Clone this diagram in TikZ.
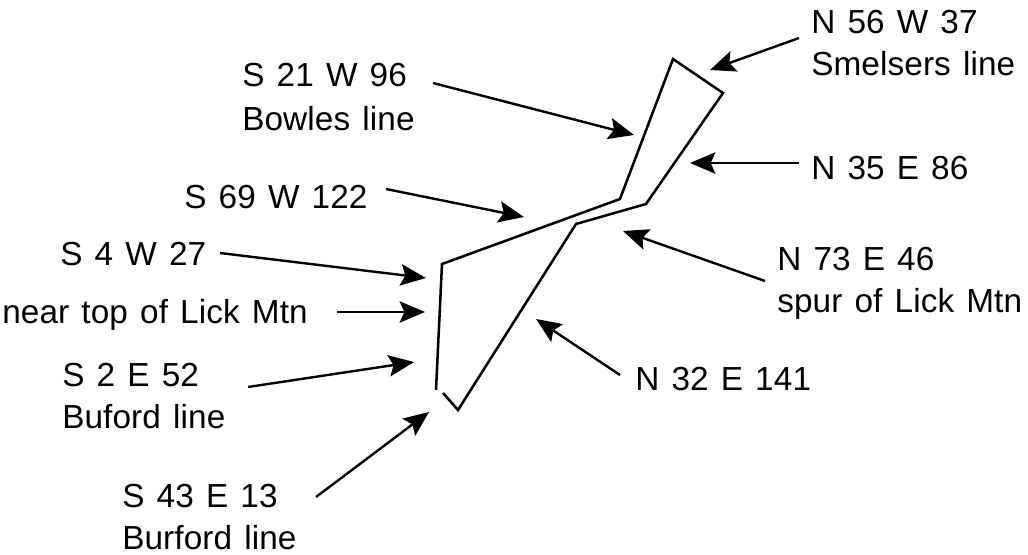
\documentclass[tikz,border=0pt]{standalone}
\usepackage{fontspec}
\setmainfont[WordSpace=1.3,LetterSpace=0.3]{Liberation Sans}
\usetikzlibrary{arrows.meta}
\tikzset{
 lbl/.style={anchor=base west,inner sep=0pt,yshift=-1pt,font=\fontsize{25}{30}\selectfont},
 arr/.style={line width=1.8pt,-{Stealth[length=19pt,width=16pt,inset=3.5pt]}},
 ln/.style={line width=1.9pt,line join=miter}
}
\begin{document}
\begin{tikzpicture}[x=0.75pt,y=-0.75pt]
\useasboundingbox (0,0) rectangle (1028,555);
\draw[ln] (436,390) -- (442,264) -- (620,199) -- (673,59) -- (723,93) -- (646,204) -- (576,224) -- (458,410) -- (443,393);
\node[lbl] (a) at (811,32) {N 56 W 37};
\node[lbl] (a2) at (811,74) {Smelsers line};
\node[lbl] (b) at (242,85) {S 21 W 96};
\node[lbl] (b2) at (242,129) {Bowles line};
\node[lbl] (c) at (184,207) {S 69 W 122};
\node[lbl] (d) at (811,178) {N 35 E 86};
\node[lbl] (e) at (60,264) {S 4 W 27};
\node[lbl] (f) at (777,269) {N 73 E 46};
\node[lbl] (f2) at (777,311) {spur of Lick Mtn};
\node[lbl] (g) at (2,322) {near top of Lick Mtn};
\node[lbl] (h) at (62,385) {S 2 E 52};
\node[lbl] (h2) at (62,427) {Buford line};
\node[lbl] (i) at (635,389) {N 32 E 141};
\node[lbl] (j) at (122,506) {S 43 E 13};
\node[lbl] (j2) at (122,548) {Burford line};
\coordinate (ta) at (710,70); \coordinate (sa) at (799,38);
\coordinate (tb) at (634,135); \coordinate (sb) at (433,83);
\coordinate (tc) at (524,217); \coordinate (sc) at (386,189);
\coordinate (td) at (690,163); \coordinate (sd) at (799,163);
\coordinate (te) at (426,278); \coordinate (se) at (220,253);
\coordinate (tf) at (623,231); \coordinate (sf) at (765,281);
\coordinate (tg) at (425,312); \coordinate (sg) at (337,312);
\coordinate (th) at (414,362); \coordinate (sh) at (248,387);
\coordinate (ti) at (536,319); \coordinate (si) at (620,375);
\coordinate (tj) at (429,412); \coordinate (sj) at (316,497);
\foreach \s/\t in {sa/ta,sb/tb,sc/tc,sd/td,se/te,sf/tf,sg/tg,sh/th,si/ti,sj/tj}
 \draw[arr] (\s) -- (\t);
\end{tikzpicture}
\end{document}
